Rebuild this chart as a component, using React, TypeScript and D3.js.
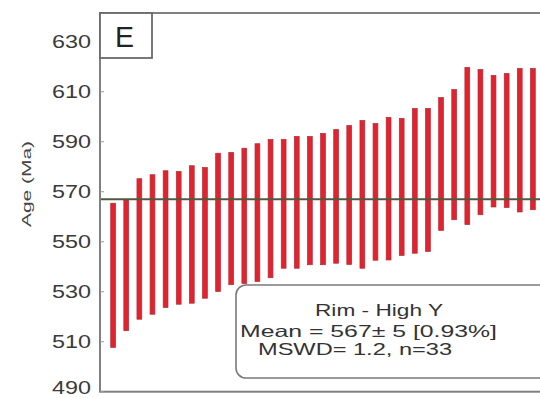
import React from 'react';
import * as d3 from 'd3';

// ages (Ma): upper and lower ends of each 2-sigma error bar
const highs = [565.4, 566.8, 575.2, 576.8, 578.4, 578.1, 580.4, 579.7, 585.4, 585.7, 587.4, 589.2, 590.9, 590.9, 592.1, 592.1, 593.3, 594.9, 596.5, 598.5, 597.3, 599.7, 599.3, 603.3, 603.3, 607.7, 610.9, 619.7, 618.9, 616.5, 617.3, 619.3, 619.3];
const lows = [507.7, 514.4, 519.0, 521.0, 523.7, 525.0, 525.4, 527.4, 530.1, 532.8, 533.3, 534.1, 535.6, 539.4, 539.4, 540.8, 540.8, 541.4, 540.9, 539.4, 542.6, 542.7, 544.5, 545.4, 546.1, 554.5, 558.8, 556.9, 560.8, 563.9, 563.7, 561.9, 562.8];
const yTicks = [490, 510, 530, 550, 570, 590, 610, 630];
const meanAge = 567;
const panelLabel = 'E';
const boxTitle = 'Rim - High Y';
const boxMean = 'Mean = 567\u00b1 5  [0.93%]';
const boxMswd = 'MSWD= 1.2, n=33';

const W = 540;
const H = 398;
const font = 'Arial, "Liberation Sans", sans-serif';

const App: React.FC = () => {
    const left = 100;
    const top = 13;
    const right = 546;
    const bottom = 391.7;

    const x = d3.scaleLinear().domain([-1, highs.length]).range([left, right]);
    const y = d3.scaleLinear().domain([490, 641.5]).range([bottom, top]);
    const barW = 4.8;

    return (
        <svg width={W} height={H} style={{ position: 'absolute', left: 0, top: 0, background: '#fff' }}>
            {/* bars */}
            {highs.map((h, i) => (
                <rect
                    key={i}
                    x={x(i) - barW / 2}
                    y={y(h)}
                    width={barW}
                    height={y(lows[i]) - y(h)}
                    fill="#e2232d"
                    stroke="#b32a38"
                    strokeWidth={0.7}
                />
            ))}

            {/* weighted mean line */}
            <line x1={left} x2={right} y1={y(meanAge)} y2={y(meanAge)} stroke="#4f5a3f" strokeWidth={1.8} />

            {/* frame */}
            <rect x={left} y={top} width={right - left} height={bottom - top} fill="none" stroke="#808080" strokeWidth={2} />

            {/* y ticks */}
            {yTicks.map(t => (
                <g key={t}>
                    <line x1={left} x2={left + 4} y1={y(t)} y2={y(t)} stroke="#999" strokeWidth={1} />
                    <text
                        x={91}
                        y={Math.min(y(t) + 6.3, H - 4)}
                        textAnchor="end"
                        fontFamily={font}
                        fontSize={17.5}
                        fill="#3a3a3a"
                        textLength={39}
                        lengthAdjust="spacingAndGlyphs"
                    >
                        {t}
                    </text>
                </g>
            ))}

            {/* axis title */}
            <text
                transform="translate(31,184) rotate(-90)"
                textAnchor="middle"
                fontFamily={font}
                fontSize={13.5}
                fill="#444"
                textLength={86}
                lengthAdjust="spacingAndGlyphs"
            >
                Age (Ma)
            </text>

            {/* panel label */}
            <rect x={left} y={top} width={52} height={45} fill="#fff" stroke="#6a6a6a" strokeWidth={1.8} />
            <text x={115} y={47} fontFamily={font} fontSize={30} fill="#222" textLength={19} lengthAdjust="spacingAndGlyphs">
                {panelLabel}
            </text>

            {/* result box */}
            <rect x={236} y={285} width={330} height={93} rx={10} fill="#fff" stroke="#7a7a7a" strokeWidth={1.6} />
            <text x={315} y={315.5} fontFamily={font} fontSize={16.5} fill="#333" textLength={128} lengthAdjust="spacingAndGlyphs">
                {boxTitle}
            </text>
            <text x={240} y={337} fontFamily={font} fontSize={16.5} fill="#333" textLength={257} lengthAdjust="spacingAndGlyphs">
                {boxMean}
            </text>
            <text x={258} y={355} fontFamily={font} fontSize={16.5} fill="#333" textLength={194} lengthAdjust="spacingAndGlyphs">
                {boxMswd}
            </text>
        </svg>
    );
};

export default App;
